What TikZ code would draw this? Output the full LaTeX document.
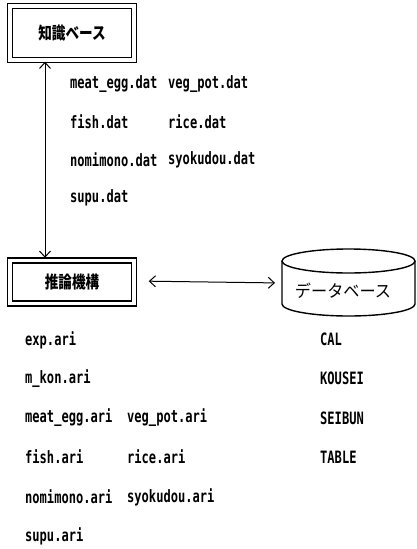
\documentclass[tikz,border=0pt]{standalone}
\usepackage{fontspec}
\usetikzlibrary{arrows.meta}
\newfontfamily\filefont{DejaVu Sans Mono}[FakeStretch=0.71]
\newfontfamily\jpfont{Noto Sans CJK JP}[FakeStretch=0.8]
\newfontfamily\jpwide{Noto Sans CJK JP}[FakeStretch=0.95]
\tikzset{
  dblbox/.style={draw, double, line width=1.5pt, double distance=3.6pt,
    inner sep=0pt, minimum width=124pt},
  jp/.style={font=\jpfont\bfseries\fontsize{17}{17}\selectfont},
  jpdb/.style={font=\jpwide\fontsize{17}{17}\selectfont},
  file/.style={font=\filefont\bfseries\fontsize{17}{17}\selectfont, anchor=west, inner sep=0pt},
  biarrow/.style={{Straight Barb[length=6pt,width=11pt]}-{Straight Barb[length=6pt,width=11pt]}, line width=1pt},
  dbline/.style={line width=1.4pt}
}
\begin{document}
\begin{tikzpicture}[x=1pt,y=-1pt]
  \useasboundingbox (0,0) rectangle (417,549);

  % knowledge base box
  \node[dblbox, minimum height=54pt, jp] (kb) at (72,33) {知識ベース};
  % inference engine box
  \node[dblbox, minimum height=43pt, jp] (inf) at (72,282) {推論機構};

  % database cylinder (y axis points down, so the lower rim runs 180 -> 0)
  \draw[dbline] (282,261) -- (282,304) arc[start angle=180, end angle=0, x radius=66.5, y radius=12] -- (415,261);
  \draw[dbline] (348.5,261) ellipse[x radius=66.5, y radius=12];
  \node[jpdb] (db) at (343,291) {データベース};
  \coordinate (dbw) at (282,283);

  % connectors
  \draw[biarrow] ([xshift=-27pt,yshift=-1pt]kb.south) -- ([xshift=-27pt,yshift=2pt]inf.north);
  \draw[biarrow] ([yshift=1pt]inf.east) -- (dbw) [shorten <=14pt, shorten >=7pt];

  % knowledge base files
  \node[file] (f1) at (70,84) {meat\_egg.dat};
  \node[file] (f2) at (168,84) {veg\_pot.dat};
  \node[file] (f3) at (70,122) {fish.dat};
  \node[file] (f4) at (168,122) {rice.dat};
  \node[file] (f5) at (70,160) {nomimono.dat};
  \node[file] (f6) at (168,160) {syokudou.dat};
  \node[file] (f7) at (70,198) {supu.dat};

  % inference engine files
  \node[file] (a1) at (25,340) {exp.ari};
  \node[file] (a2) at (25,379) {m\_kon.ari};
  \node[file] (a3) at (25,418) {meat\_egg.ari};
  \node[file] (a4) at (127,418) {veg\_pot.ari};
  \node[file] (a5) at (25,457) {fish.ari};
  \node[file] (a6) at (127,457) {rice.ari};
  \node[file] (a7) at (25,497) {nomimono.ari};
  \node[file] (a8) at (127,497) {syokudou.ari};
  \node[file] (a9) at (25,536) {supu.ari};

  % database tables
  \node[file] (t1) at (320,339) {CAL};
  \node[file] (t2) at (320,378) {KOUSEI};
  \node[file] (t3) at (320,418) {SEIBUN};
  \node[file] (t4) at (320,457) {TABLE};
\end{tikzpicture}
\end{document}
